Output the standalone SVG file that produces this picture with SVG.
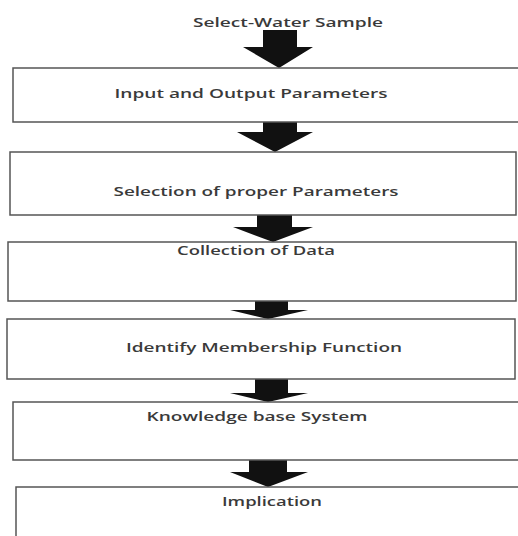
<svg xmlns="http://www.w3.org/2000/svg" width="518" height="536" viewBox="0 0 518 536">
<style>
.box{fill:#fff;stroke:#555;stroke-width:1.5}
.lbl{font-family:"Open Sans","Liberation Sans",sans-serif;font-size:13px;font-weight:600;fill:#3a3a3a;text-anchor:middle}
.arr{fill:#111}
</style>
<rect width="518" height="536" fill="#fff"/>
<g id="connectors">
<polygon class="arr" points="263,30 297,30 297,47 313,47 279,68 243,47 263,47"/>
<polygon class="arr" points="263,122 297,122 297,132 313,132 275,152 237,132 263,132"/>
<polygon class="arr" points="257,215 292,215 292,227 313,227 273,242 233,227 257,227"/>
<polygon class="arr" points="255,301 288,301 288,310 308,310 268,319 230,310 255,310"/>
<polygon class="arr" points="255,379 288,379 288,393 308,393 268,402 230,393 255,393"/>
<polygon class="arr" points="249,460 287,460 287,472 308,472 268,487 230,472 249,472"/>
</g>
<g id="n0"><text class="lbl" x="288" y="27" textLength="190" lengthAdjust="spacingAndGlyphs">Select-Water Sample</text></g>
<g id="n1"><rect class="box" x="13" y="68" width="507" height="54"/><text class="lbl" x="251" y="98" textLength="273" lengthAdjust="spacingAndGlyphs">Input and Output Parameters</text></g>
<g id="n2"><rect class="box" x="10" y="152" width="506" height="63"/><text class="lbl" x="256" y="196" textLength="285" lengthAdjust="spacingAndGlyphs">Selection of proper Parameters</text></g>
<g id="n3"><rect class="box" x="8" y="242" width="508" height="59"/><text class="lbl" x="256" y="255" textLength="158" lengthAdjust="spacingAndGlyphs">Collection of Data</text></g>
<g id="n4"><rect class="box" x="7" y="319" width="508" height="60"/><text class="lbl" x="264" y="352" textLength="276" lengthAdjust="spacingAndGlyphs">Identify Membership Function</text></g>
<g id="n5"><rect class="box" x="13" y="402" width="507" height="58"/><text class="lbl" x="257" y="421" textLength="221" lengthAdjust="spacingAndGlyphs">Knowledge base System</text></g>
<g id="n6"><rect class="box" x="16" y="487" width="506" height="60"/><text class="lbl" x="272" y="506" textLength="100" lengthAdjust="spacingAndGlyphs">Implication</text></g>
</svg>
